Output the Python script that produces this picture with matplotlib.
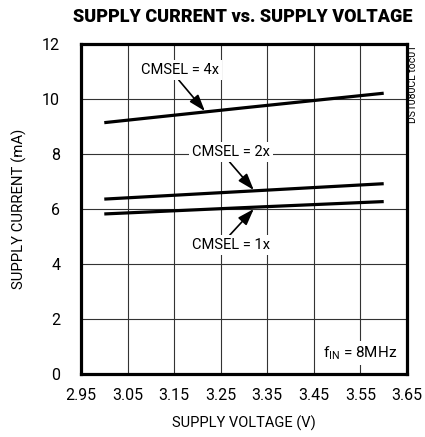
import numpy as np
import matplotlib
matplotlib.use("Agg")
import matplotlib.pyplot as plt

# supply voltage (V) vs supply current (mA)
volts = [3.0, 3.3, 3.6]
cur_4x = [9.14, 9.68, 10.21]
cur_2x = [6.36, 6.64, 6.92]
cur_1x = [5.82, 6.05, 6.27]

xticks = [2.95, 3.05, 3.15, 3.25, 3.35, 3.45, 3.55, 3.65]
yticks = [0, 2, 4, 6, 8, 10, 12]

plt.rcParams['font.family'] = ['Roboto', 'DejaVu Sans']

fig = plt.figure(figsize=(4.25, 4.37), dpi=100)
ax = fig.add_axes([81/425, 1 - 374/437, 326/425, 330/437])

ax.plot(volts, cur_4x, color='black', lw=2.3, solid_capstyle='butt')
ax.plot(volts, cur_2x, color='black', lw=2.3, solid_capstyle='butt')
ax.plot(volts, cur_1x, color='black', lw=2.3, solid_capstyle='butt')

ax.set_xlim(2.95, 3.65)
ax.set_ylim(0, 12)
ax.set_xticks(xticks)
ax.set_xticklabels([f"{t:.2f}" for t in xticks])
ax.set_yticks(yticks)
ax.grid(True, color='#333333', lw=0.8)
ax.tick_params(length=0, labelsize=11.5, pad=10)
ax.tick_params(axis='y', pad=15)
for s in ax.spines.values():
    s.set_linewidth(2.3)

ax.set_xlabel("SUPPLY VOLTAGE (V)", fontsize=10.5, labelpad=9)
ax.set_ylabel("SUPPLY CURRENT (mA)", fontsize=10.7, labelpad=11)
fig.suptitle("SUPPLY CURRENT vs. SUPPLY VOLTAGE", x=243/425, y=1 - 8/437,
             fontsize=13, fontweight='black', va='top')

box = dict(boxstyle='square,pad=0.2', fc='white', ec='none')
arrow = dict(arrowstyle='-|>,head_length=0.5,head_width=0.17', color='black',
             lw=1.2, mutation_scale=20, shrinkA=0, shrinkB=0)
ax.annotate("CMSEL = 4x", xy=(3.216, 9.56), xytext=(3.163, 11.05),
            ha='center', va='center', fontsize=10.5, bbox=box,
            arrowprops=dict(arrow, relpos=(0.45, 0)))
ax.annotate("CMSEL = 2x", xy=(3.321, 6.69), xytext=(3.272, 8.07),
            ha='center', va='center', fontsize=10.5, bbox=box,
            arrowprops=dict(arrow, relpos=(0.45, 0)))
ax.annotate("CMSEL = 1x", xy=(3.321, 6.0), xytext=(3.272, 4.69),
            ha='center', va='center', fontsize=10.5, bbox=box,
            arrowprops=dict(arrow, relpos=(0.45, 1)))

ax.text(3.628, 0.76, r"f$_{\mathregular{IN}}$ = 8MHz", ha='right', va='center',
        fontsize=11, bbox=box)

fig.text(413/425, 1 - 84/437, "DS1080CL toc01", rotation=90, ha='center',
         va='center', fontsize=7.5)

fig.savefig("out.png", dpi=100)
